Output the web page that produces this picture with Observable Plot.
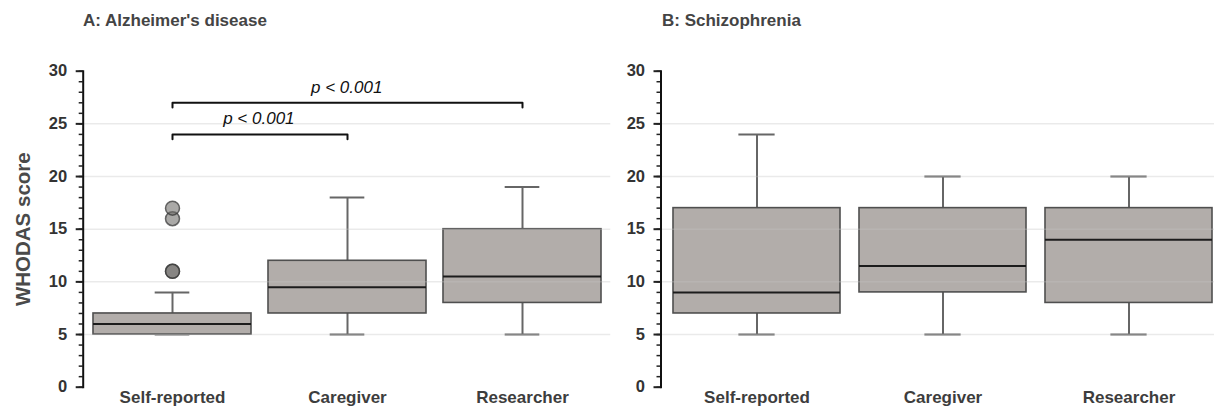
<!DOCTYPE html>
<html>
<head>
<meta charset="utf-8">
<script src="https://cdn.jsdelivr.net/npm/d3@7"></script>
<script src="https://cdn.jsdelivr.net/npm/@observablehq/plot@0.6"></script>
<style>
  html, body { margin: 0; padding: 0; background: #fff; width: 1214px; height: 406px; overflow: hidden; }
  #wrap { position: relative; width: 1214px; height: 406px; overflow: hidden;
          font-family: "Liberation Sans", Arial, Helvetica, sans-serif; }
  .panel { position: absolute; top: 0; height: 406px; }
  .panel svg { max-width: none !important; display: block; }
  .title { position: absolute; top: 12px; font-size: 17px; line-height: 17px; font-weight: bold;
           color: #444; white-space: nowrap; }
</style>
</head>
<body>
<div id="wrap">
  <div class="panel" id="pA" style="left:0px;width:615px"></div>
  <div class="panel" id="pB" style="left:615px;width:607px"></div>
  <div class="title" style="left:83px">A: Alzheimer's disease</div>
  <div class="title" style="left:662px">B: Schizophrenia</div>
</div>
<script>
// ---------- data ----------
const categories = ["Self-reported", "Caregiver", "Researcher"];

// A: Alzheimer's disease (box summaries)
const adLow    = [5, 5, 5];
const adQ1     = [5, 7, 8];
const adMedian = [6, 9.5, 10.5];
const adQ3     = [7, 12, 15];
const adHigh   = [9, 18, 19];
const adOutlierGroups = ["Self-reported", "Self-reported", "Self-reported", "Self-reported"];
const adOutlierValues = [11, 11, 16, 17];

// B: Schizophrenia (box summaries)
const szLow    = [5, 5, 5];
const szQ1     = [7, 9, 8];
const szMedian = [9, 11.5, 14];
const szQ3     = [17, 17, 17];
const szHigh   = [24, 20, 20];

// significance brackets (panel A)
const bracketFrom   = ["Self-reported", "Self-reported"];
const bracketTo     = ["Caregiver", "Researcher"];
const bracketY      = [24, 27];
const bracketLabels = ["p < 0.001", "p < 0.001"];

// axes
const yMajorTicks = [0, 5, 10, 15, 20, 25, 30];
const yMinorTicks = [0,1,2,3,4,5,6,7,8,9,10,11,12,13,14,15,16,17,18,19,20,21,22,23,24,25,26,27,28,29,30];
const gridValues  = [5, 10, 15, 20, 25];
const yLabelText  = "WHODAS score";

// ---------- build ----------
const FONT = '"Liberation Sans", Arial, Helvetica, sans-serif';
function toRows(low, q1, med, q3, high) {
  return categories.map((c, i) => ({cat: c, low: low[i], q1: q1[i], med: med[i], q3: q3[i], high: high[i]}));
}

function makePanel({width, marginLeft, marginRight, xRange, rows, outliers, brackets, yLabel}) {
  const step = (xRange[1] - xRange[0]) / categories.length;
  const bw = step * 0.9;
  const capInset = bw * 0.39;
  const whisker = {stroke: "#666", strokeWidth: 2};
  const marks = [
    Plot.ruleX(rows, {x: "cat", y1: "low", y2: "q1", ...whisker}),
    Plot.ruleX(rows, {x: "cat", y1: "q3", y2: "high", ...whisker}),
    Plot.barY(rows, {x: "cat", y1: "q1", y2: "q3", fill: "#b2adaa", stroke: "#4f4f4f", strokeWidth: 1.6}),
    Plot.tickY(rows, {x: "cat", y: "low", insetLeft: capInset, insetRight: capInset, ...whisker}),
    Plot.tickY(rows, {x: "cat", y: "high", insetLeft: capInset, insetRight: capInset, ...whisker}),
    Plot.tickY(rows, {x: "cat", y: "med", stroke: "#1c1c1c", strokeWidth: 2})
  ];
  if (outliers) {
    marks.push(Plot.dot(outliers, {x: "cat", y: "value", r: 7, fill: "#6f6c6a", fillOpacity: 0.59,
      stroke: "#3a3a3a", strokeOpacity: 0.75, strokeWidth: 1.5}));
  }
  marks.push(
    Plot.ruleY(gridValues, {stroke: "#c4c4c4", strokeOpacity: 0.35, strokeWidth: 1.5}),
    Plot.axisY({ticks: yMinorTicks, tickSize: 4, tickFormat: () => "", stroke: "#222", strokeWidth: 1.5, label: null}),
    Plot.axisY({ticks: yMajorTicks, tickSize: 7, tickPadding: 9, fontSize: 16.5, fontWeight: "bold",
      fill: "#333", stroke: "#222", strokeWidth: 2, label: null}),
    Plot.frame({anchor: "left", stroke: "#111", strokeWidth: 2}),
    Plot.axisX({tickSize: 0, tickPadding: 4, fontSize: 17, fontWeight: "bold", fill: "#3d3d3d", label: null})
  );
  if (brackets) {
    const pts = brackets.flatMap((b, i) => [
      {k: i, x: b.from, y: b.y - 0.45},
      {k: i, x: b.from, y: b.y},
      {k: i, x: b.to, y: b.y},
      {k: i, x: b.to, y: b.y - 0.45}
    ]);
    marks.push(Plot.line(pts, {x: "x", y: "y", z: "k", stroke: "#111", strokeWidth: 2}));
    brackets.forEach((b) => {
      const off = (categories.indexOf(b.to) - categories.indexOf(b.from)) * step / 2;
      marks.push(Plot.text([b], {x: "from", y: "y", text: "label", dx: off - 1.5, dy: -15.5,
        lineAnchor: "middle", textAnchor: "middle", fontSize: 17, fontStyle: "italic", fill: "#111"}));
    });
  }
  if (yLabel) {
    marks.push(Plot.text([yLabel], {frameAnchor: "left", rotate: -90, dx: 22.5 - marginLeft,
      lineAnchor: "middle", textAnchor: "middle", fontSize: 20.5, fontWeight: "bold", fill: "#4a4a4a"}));
  }
  return Plot.plot({
    width, height: 406,
    marginTop: 70.7, marginBottom: 19.3, marginLeft, marginRight,
    x: {domain: categories, range: xRange, paddingInner: 0.1, paddingOuter: 0.05, label: null},
    y: {domain: [0, 30], label: null},
    style: {fontFamily: FONT, background: "transparent", overflow: "visible"},
    marks
  });
}

const adRows = toRows(adLow, adQ1, adMedian, adQ3, adHigh);
const adOutliers = adOutlierGroups.map((c, i) => ({cat: c, value: adOutlierValues[i]}));
const brackets = bracketFrom.map((f, i) => ({from: f, to: bracketTo[i], y: bracketY[i], label: bracketLabels[i]}));
const szRows = toRows(szLow, szQ1, szMedian, szQ3, szHigh);

document.getElementById("pA").appendChild(makePanel({
  width: 615, marginLeft: 82.7, marginRight: 4.8, xRange: [83, 610.2],
  rows: adRows, outliers: adOutliers, brackets, yLabel: yLabelText
}));
document.getElementById("pB").appendChild(makePanel({
  width: 607, marginLeft: 45.5, marginRight: 0.3, xRange: [47.9, 606.7],
  rows: szRows
}));
</script>
</body>
</html>
